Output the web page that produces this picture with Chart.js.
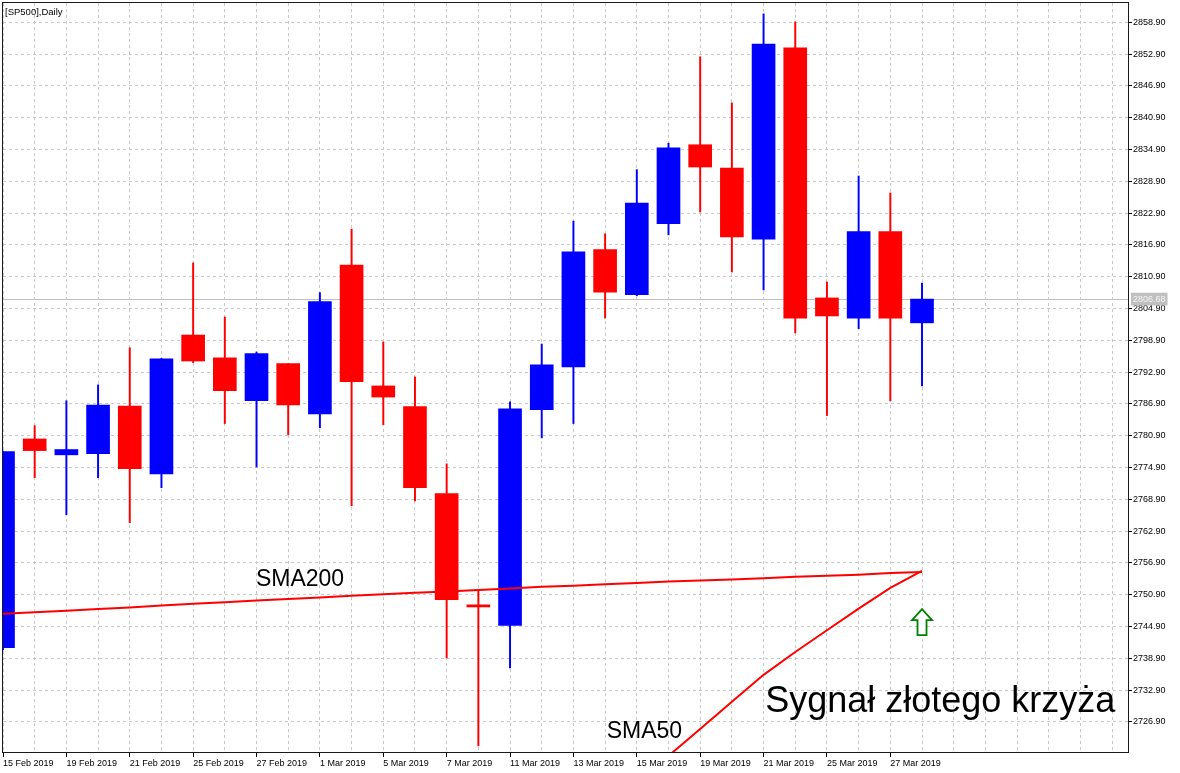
<!DOCTYPE html>
<html>
<head>
<meta charset="utf-8">
<title>SP500 Daily</title>
<script src="https://cdn.jsdelivr.net/npm/chart.js@4.4.1/dist/chart.umd.min.js"></script>
<style>
  html, body { margin: 0; padding: 0; background: #fff; }
  #wrap { position: relative; width: 1180px; height: 773px; }
</style>
</head>
<body>
<div id="wrap"><canvas id="chart"></canvas></div>
<script>
// daily bars
const dates = ['15 Feb 2019','18 Feb 2019','19 Feb 2019','20 Feb 2019','21 Feb 2019','22 Feb 2019',
  '25 Feb 2019','26 Feb 2019','27 Feb 2019','28 Feb 2019','1 Mar 2019','4 Mar 2019','5 Mar 2019',
  '6 Mar 2019','7 Mar 2019','8 Mar 2019','11 Mar 2019','12 Mar 2019','13 Mar 2019','14 Mar 2019',
  '15 Mar 2019','18 Mar 2019','19 Mar 2019','20 Mar 2019','21 Mar 2019','22 Mar 2019','25 Mar 2019',
  '26 Mar 2019','27 Mar 2019','28 Mar 2019'];
const opens  = [2740.9, 2780.3, 2777.3, 2777.5, 2786.5, 2773.7, 2799.9, 2795.6, 2787.5, 2794.5,
  2785.0, 2813.1, 2790.3, 2786.4, 2770.0, 2749.0, 2745.1, 2785.8, 2793.9, 2816.0,
  2807.5, 2820.9, 2835.8, 2831.4, 2818.0, 2854.1, 2806.9, 2803.1, 2819.4, 2802.2];
const highs  = [2778.0, 2782.8, 2787.5, 2790.5, 2797.5, 2795.5, 2813.5, 2803.3, 2796.7, 2794.5,
  2807.9, 2819.9, 2798.6, 2792.0, 2775.6, 2751.9, 2787.3, 2798.2, 2821.4, 2819.0,
  2831.1, 2836.1, 2852.4, 2843.7, 2860.5, 2859.0, 2809.9, 2829.9, 2826.7, 2809.7];
const lows   = [2740.5, 2773.0, 2766.0, 2773.0, 2764.5, 2771.1, 2794.7, 2783.2, 2775.0, 2781.1,
  2782.4, 2767.7, 2783.0, 2768.6, 2739.0, 2722.4, 2737.1, 2780.5, 2783.2, 2803.1,
  2807.3, 2818.8, 2823.1, 2811.8, 2808.4, 2800.3, 2784.7, 2801.1, 2787.5, 2790.3];
const closes = [2777.9, 2778.1, 2778.3, 2786.7, 2774.7, 2795.4, 2795.0, 2789.4, 2796.4, 2786.7,
  2806.2, 2791.1, 2788.2, 2771.1, 2750.0, 2748.6, 2786.0, 2794.3, 2815.6, 2808.0,
  2824.8, 2835.2, 2831.6, 2818.4, 2854.8, 2803.1, 2803.5, 2819.4, 2803.1, 2806.68];

const sma200 = [2747.3, 2747.6, 2747.9, 2748.2, 2748.5, 2748.9, 2749.2, 2749.5, 2749.8, 2750.1,
  2750.4, 2750.7, 2751.0, 2751.3, 2751.5, 2751.8, 2752.1, 2752.4, 2752.6, 2752.9,
  2753.1, 2753.4, 2753.6, 2753.8, 2754.0, 2754.3, 2754.5, 2754.7, 2755.0, 2755.2];
// SMA50 only enters the window near the end
const sma50Start = 20;
const sma50 = [2715.5, 2720.5, 2725.6, 2730.7, 2735.8, 2740.1, 2744.2, 2748.3, 2752.2, 2755.4];

const priceTicks = [2726.9, 2732.9, 2738.9, 2744.9, 2750.9, 2756.9, 2762.9, 2768.9, 2774.9, 2780.9,
  2786.9, 2792.9, 2798.9, 2804.9, 2810.9, 2816.9, 2822.9, 2828.9, 2834.9, 2840.9,
  2846.9, 2852.9, 2858.9];
const lastPrice = closes[closes.length - 1];

const UP = '#0000ff', DOWN = '#ff0000';
const FONT = '"Liberation Sans", Arial, sans-serif';

const barColor = ctx => closes[ctx.dataIndex] >= opens[ctx.dataIndex] ? UP : DOWN;

// text notes anchored in data units (bar index, price)
const notes = [
  { text: 'SMA200', at: [7.98, 2752.6], size: 23 },
  { text: 'SMA50', at: [19.05, 2723.9], size: 23 },
  { text: 'Sygnał złotego krzyża', at: [24.05, 2728.8], size: 36 }
];
const arrowAt = [29.0, 2748.2, 2743.3];

const overlay = {
  id: 'overlay',
  afterDatasetsDraw(chart) {
    const { ctx, chartArea: a, scales: { x, y } } = chart;
    ctx.save();
    // frame round the plot
    ctx.strokeStyle = '#1a1a1a';
    ctx.lineWidth = 1;
    ctx.strokeRect(a.left - 0.5, a.top - 0.5, a.right - a.left + 1, a.bottom - a.top + 1);

    ctx.fillStyle = '#000';
    ctx.textAlign = 'left';
    ctx.textBaseline = 'alphabetic';
    ctx.font = '9.5px ' + FONT;
    ctx.fillText('[SP500],Daily', a.left + 2, a.top + 12);

    notes.forEach(n => {
      ctx.font = n.size + 'px ' + FONT;
      ctx.fillText(n.text, x.getPixelForValue(n.at[0]), y.getPixelForValue(n.at[1]));
    });

    // green up arrow at the cross
    const cx = x.getPixelForValue(arrowAt[0]);
    const tip = y.getPixelForValue(arrowAt[1]);
    const bot = y.getPixelForValue(arrowAt[2]);
    ctx.beginPath();
    ctx.moveTo(cx, tip);
    ctx.lineTo(cx + 10, tip + 11);
    ctx.lineTo(cx + 4.5, tip + 11);
    ctx.lineTo(cx + 4.5, bot);
    ctx.lineTo(cx - 4.5, bot);
    ctx.lineTo(cx - 4.5, tip + 11);
    ctx.lineTo(cx - 10, tip + 11);
    ctx.closePath();
    ctx.fillStyle = '#fff';
    ctx.fill();
    ctx.strokeStyle = '#008000';
    ctx.lineWidth = 1.8;
    ctx.stroke();
    ctx.restore();
  }
};

const idx = dates.map((d, i) => i);

new Chart(document.getElementById('chart'), {
  type: 'bar',
  data: {
    datasets: [
      {
        type: 'line',
        label: 'SMA200',
        data: idx.map(i => ({ x: i, y: sma200[i] })),
        borderColor: '#ff0000',
        borderWidth: 2,
        pointRadius: 0,
        tension: 0,
        order: 0
      },
      {
        type: 'line',
        label: 'SMA50',
        data: sma50.map((v, k) => ({ x: sma50Start + k, y: v })),
        borderColor: '#ff0000',
        borderWidth: 2,
        pointRadius: 0,
        tension: 0,
        order: 0
      },
      {
        label: 'body',
        data: idx.map(i => ({ x: i, y: [opens[i], closes[i]] })),
        backgroundColor: barColor,
        borderWidth: 0,
        barThickness: 23,
        grouped: false,
        order: 1
      },
      {
        label: 'wick',
        data: idx.map(i => ({ x: i, y: [lows[i], highs[i]] })),
        backgroundColor: barColor,
        borderWidth: 0,
        barThickness: 1.3,
        grouped: false,
        order: 2
      }
    ]
  },
  options: {
    responsive: true,
    maintainAspectRatio: false,
    animation: false,
    layout: { padding: { left: 3, top: 3, right: 0, bottom: 0 } },
    plugins: { legend: { display: false }, tooltip: { enabled: false } },
    scales: {
      x: {
        type: 'linear',
        min: 0,
        max: 35.5,
        offset: false,
        afterBuildTicks: s => { s.ticks = Array.from({ length: 36 }, (_, i) => ({ value: i })); },
        afterFit: s => { s.height = 21; s.paddingLeft = 0; s.paddingRight = 0; },
        grid: {
          offset: false,
          color: '#c8c8c8',
          lineWidth: 1,
          tickLength: 5,
          tickColor: c => (c.tick && c.tick.value % 2 === 0 && c.tick.value < dates.length) ? '#000' : 'rgba(0,0,0,0)'
        },
        border: { display: false, dash: [3, 3] },
        ticks: {
          autoSkip: false,
          maxRotation: 0,
          align: 'start',
          padding: 1,
          color: '#000',
          font: { family: FONT, size: 9 },
          callback: v => (v % 2 === 0 && v < dates.length) ? dates[v] : ''
        }
      },
      y: {
        type: 'linear',
        position: 'right',
        min: 2721.24,
        max: 2862.54,
        afterBuildTicks: s => {
          s.ticks = priceTicks.concat([lastPrice]).sort((p, q) => p - q).map(v => ({ value: v }));
        },
        afterFit: s => { s.width = 52; s.paddingTop = 0; s.paddingBottom = 0; },
        grid: {
          color: c => (c.tick && c.tick.value === lastPrice) ? '#c0c0c0' : '#c8c8c8',
          lineWidth: 1,
          tickLength: 4,
          tickColor: c => (c.tick && c.tick.value === lastPrice) ? 'rgba(0,0,0,0)' : '#000'
        },
        border: {
          display: false,
          dash: c => (c.tick && c.tick.value === lastPrice) ? [] : [3, 3]
        },
        ticks: {
          autoSkip: false,
          padding: 1,
          font: { family: FONT, size: 9 },
          color: c => (c.tick && c.tick.value === lastPrice) ? '#f4f4f4' : '#000',
          showLabelBackdrop: c => !!(c.tick && c.tick.value === lastPrice),
          backdropColor: '#c0c0c0',
          backdropPadding: { top: 1, bottom: 1, left: 2, right: 2 },
          callback: v => v.toFixed(2)
        }
      }
    }
  },
  plugins: [overlay]
});
</script>
</body>
</html>
